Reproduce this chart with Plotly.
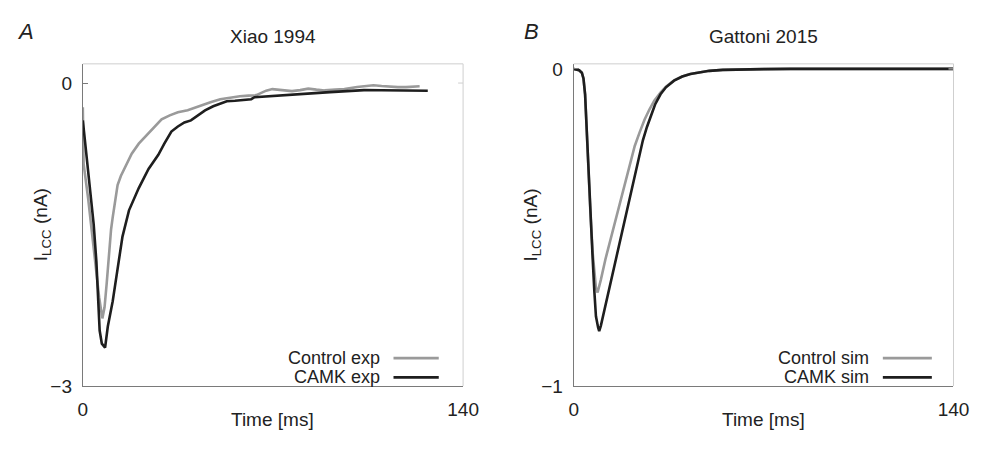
import plotly.graph_objects as go

# ---- Panel A: Xiao 1994 (experimental traces) ----
ctrl_exp_t = [0, 0.3, 2, 4, 6, 7.2, 8, 8.8, 9.6, 10.4, 11, 12, 12.8, 14, 15.8, 18, 20.6,
              23, 25.4, 29, 32, 35, 38.6, 43.4, 47, 50.6, 53, 57.8, 61, 63.9, 65.5,
              67.5, 69.8, 73, 77, 80, 83, 86, 89, 93, 96.3, 101, 104, 107, 110, 113,
              116, 119, 122, 124]
ctrl_exp_i = [-0.24, -0.8, -1.15, -1.65, -2.12, -2.33, -2.22, -1.98, -1.7, -1.45, -1.33,
              -1.12, -1.01, -0.92, -0.82, -0.7, -0.6, -0.53, -0.47, -0.36, -0.32, -0.29,
              -0.27, -0.22, -0.19, -0.16, -0.15, -0.13, -0.125, -0.12, -0.1, -0.075,
              -0.06, -0.07, -0.08, -0.07, -0.055, -0.065, -0.073, -0.065, -0.06, -0.04,
              -0.03, -0.022, -0.03, -0.038, -0.04, -0.04, -0.035, -0.032]

camk_exp_t = [0, 1.5, 2.6, 4, 5, 5.8, 6.2, 7, 8.2, 9.2, 10, 11, 12.8, 14.6, 17, 20.6,
              24.2, 27.8, 30, 32.6, 35, 37.4, 39.8, 42.2, 45, 48, 53, 56, 60.5, 62,
              63.2, 68, 73.4, 80, 85.5, 91, 97.5, 103.5, 110, 115.5, 121, 127]
camk_exp_i = [-0.37, -0.75, -1.01, -1.4, -1.77, -2.2, -2.45, -2.58, -2.62, -2.41, -2.3,
              -2.16, -1.84, -1.52, -1.26, -1.04, -0.85, -0.71, -0.6, -0.48, -0.43, -0.39,
              -0.37, -0.32, -0.27, -0.23, -0.18, -0.175, -0.168, -0.16, -0.14, -0.13,
              -0.118, -0.11, -0.1, -0.09, -0.08, -0.07, -0.072, -0.073, -0.075, -0.076]

# ---- Panel B: Gattoni 2015 (simulated traces) ----
ctrl_sim_t = [0, 1, 2, 3, 3.6, 4.2, 4.8, 5.5, 6.2, 7, 7.6, 8.2, 8.8, 9.3, 10, 11.7, 13.5,
              15.3, 17, 18.9, 20.7, 22.5, 24.3, 26.1, 27.9, 29.7, 32, 34, 37, 40, 43, 47,
              50, 55, 60, 70, 80, 100, 120, 140]
ctrl_sim_i = [0, -0.001, -0.004, -0.012, -0.03, -0.08, -0.2, -0.35, -0.46, -0.58, -0.65,
              -0.69, -0.705, -0.69, -0.665, -0.6, -0.54, -0.477, -0.418, -0.355, -0.298,
              -0.243, -0.2, -0.16, -0.128, -0.1, -0.075, -0.056, -0.036, -0.024, -0.016,
              -0.009, -0.006, -0.003, -0.0015, -0.0005, 0, 0, 0, 0]

camk_sim_t = [0, 1, 2, 3, 3.6, 4.2, 4.8, 5.5, 6.2, 7, 7.6, 8.2, 9.0, 9.4, 10, 11.7, 13.5,
              15.3, 17, 18.9, 20.7, 22.5, 24, 25.5, 27, 28.5, 30, 32, 34, 37, 40, 43, 47,
              50, 55, 60, 70, 80, 100, 120, 140]
camk_sim_i = [0, -0.001, -0.004, -0.012, -0.03, -0.08, -0.2, -0.35, -0.46, -0.6, -0.7,
              -0.78, -0.815, -0.827, -0.81, -0.745, -0.68, -0.61, -0.545, -0.477, -0.405,
              -0.334, -0.28, -0.225, -0.183, -0.145, -0.112, -0.08, -0.058, -0.037,
              -0.024, -0.016, -0.009, -0.006, -0.003, -0.0015, -0.0005, 0, 0, 0, 0]

panel_titles = ["Xiao 1994", "Gattoni 2015"]
panel_letters = ["A", "B"]
legend_a = ["Control exp", "CAMK exp"]
legend_b = ["Control sim", "CAMK sim"]
x_ticks = [0, 140]
y_ticks_a = [-3, 0]
y_ticks_b = [-1, 0]
y_ticktext_a = ["\u22123", "0"]
y_ticktext_b = ["\u22121", "0"]

GREY = "#9a9a9a"
BLACK = "#1e1e1e"
AXIS = "#7a7a7a"
BOX = "#cfcfcf"
TXT = "#222222"
FONT = "Liberation Sans, Arial, sans-serif"
FS = 19
FS_LEG = 18

W, H = 992, 454
fig = go.Figure()

fig.add_trace(go.Scatter(x=ctrl_exp_t, y=ctrl_exp_i, mode="lines",
                         line=dict(color=GREY, width=2.6), xaxis="x", yaxis="y"))
fig.add_trace(go.Scatter(x=camk_exp_t, y=camk_exp_i, mode="lines",
                         line=dict(color=BLACK, width=2.6), xaxis="x", yaxis="y"))
fig.add_trace(go.Scatter(x=ctrl_sim_t, y=ctrl_sim_i, mode="lines",
                         line=dict(color=GREY, width=2.6), xaxis="x2", yaxis="y2"))
fig.add_trace(go.Scatter(x=camk_sim_t, y=camk_sim_i, mode="lines",
                         line=dict(color=BLACK, width=2.6), xaxis="x2", yaxis="y2"))

# plot-area geometry in pixels
left_a, right_a = 79.5, 468
left_b, right_b = 581, 969
top_px, bottom_px = 61, 395
ydom = [(H - bottom_px) / H, (H - top_px) / H]

common_x = dict(range=[0, 140], tickvals=x_ticks, showline=True, linecolor=AXIS,
                linewidth=1, ticks="inside", ticklen=5, tickcolor=AXIS, showgrid=False,
                zeroline=False, tickfont=dict(size=FS, color=TXT, family=FONT),
                ticklabelstandoff=6)
common_y = dict(showline=True, linecolor=AXIS, linewidth=1, ticks="inside", ticklen=5,
                tickcolor=AXIS, showgrid=False, zeroline=False,
                tickfont=dict(size=FS, color=TXT, family=FONT), ticklabelstandoff=6)

fig.update_layout(
    width=W, height=H,
    margin=dict(l=0, r=0, t=0, b=0),
    paper_bgcolor="white", plot_bgcolor="white",
    showlegend=False,
    font=dict(family=FONT, size=FS, color=TXT),
    xaxis=dict(domain=[left_a / W, right_a / W], anchor="y", **common_x),
    yaxis=dict(domain=ydom, anchor="x", range=[-3, 0.19], tickvals=y_ticks_a,
               ticktext=y_ticktext_a, **common_y),
    xaxis2=dict(domain=[left_b / W, right_b / W], anchor="y2", **common_x),
    yaxis2=dict(domain=ydom, anchor="x2", range=[-1, 0.016], tickvals=y_ticks_b,
                ticktext=y_ticktext_b, **common_y),
)

shapes = []
annotations = []
panels = [("x", "y", legend_a, left_a, right_a, 0.786, 0.817, 0.936),
          ("x2", "y2", legend_b, left_b, right_b, 0.784, 0.814, 0.943)]
for k, (xa, ya, labels, lft, rgt, txt_end, ln0, ln1) in enumerate(panels):
    xd, yd = xa + " domain", ya + " domain"
    # light box edges on top and right
    shapes.append(dict(type="line", xref=xd, yref=yd, x0=0, x1=1, y0=1, y1=1,
                       line=dict(color=BOX, width=1)))
    shapes.append(dict(type="line", xref=xd, yref=yd, x0=1, x1=1, y0=0, y1=1,
                       line=dict(color=BOX, width=1)))
    # mirrored tick at zero on the right edge
    shapes.append(dict(type="line", xref=xa, yref=ya, xsizemode="pixel", xanchor=140,
                       x0=-5, x1=0, y0=0, y1=0, line=dict(color=BOX, width=1)))

    # legend: right-aligned labels followed by line samples
    for j, (lab, col) in enumerate(zip(labels, [GREY, BLACK])):
        yrow = [29, 9][j] / (bottom_px - top_px)
        annotations.append(dict(text=lab, xref=xd, yref=yd, x=txt_end, y=yrow,
                                xanchor="right", yanchor="middle", showarrow=False,
                                font=dict(size=FS_LEG, color=TXT, family=FONT)))
        shapes.append(dict(type="line", xref=xd, yref=yd, x0=ln0, x1=ln1,
                           y0=yrow, y1=yrow, line=dict(color=col, width=2.6)))

    cx = (lft + rgt) / 2 / W
    # panel title
    annotations.append(dict(text=panel_titles[k], xref="paper", yref="paper", x=cx,
                            y=1 - 33 / H, xanchor="center", yanchor="middle",
                            showarrow=False, font=dict(size=FS, color=TXT, family=FONT)))
    # panel letter
    annotations.append(dict(text="<i>" + panel_letters[k] + "</i>", xref="paper",
                            yref="paper", x=[21, 538][k] / W, y=1 - 27 / H,
                            xanchor="center", yanchor="middle", showarrow=False,
                            font=dict(size=22, color=TXT, family=FONT)))
    # x-axis title
    annotations.append(dict(text="Time [ms]", xref="paper", yref="paper", x=cx,
                            y=1 - 430 / H, xanchor="center", yanchor="middle",
                            showarrow=False, font=dict(size=FS, color=TXT, family=FONT)))
    # y-axis title
    annotations.append(dict(text="I<sub>LCC</sub> (nA)", xref="paper", yref="paper",
                            x=[38, 538][k] / W, y=1 - 228 / H, xanchor="center",
                            yanchor="middle", textangle=-90, showarrow=False,
                            font=dict(size=FS, color=TXT, family=FONT)))

fig.update_layout(shapes=shapes, annotations=annotations)
fig.write_html("out.html")
